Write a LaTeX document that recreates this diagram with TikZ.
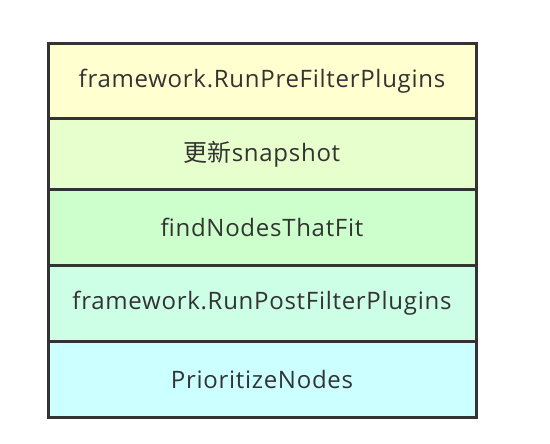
\documentclass[tikz,border=0pt]{standalone}
\usepackage{fontspec}
\setmainfont[LetterSpace=3]{Open Sans}
\newfontfamily\cjk{Noto Sans CJK SC}
\definecolor{bordc}{HTML}{333333}
\definecolor{txtc}{HTML}{333333}
\definecolor{cA}{HTML}{FFFFCF}
\definecolor{cB}{HTML}{E6FFCC}
\definecolor{cC}{HTML}{CCFFCC}
\definecolor{cD}{HTML}{CCFFE6}
\definecolor{cE}{HTML}{CCFFFF}
\begin{document}
\begin{tikzpicture}[x=1pt,y=-1pt,
  row/.style={draw=bordc,line width=3pt,minimum width=428pt,anchor=north west,inner sep=0pt,text=txtc,font=\fontsize{24}{28}\selectfont}]
\useasboundingbox (0,0) rectangle (550,444);
\fill[black!12] (47,44) rectangle (477.5,418.5);
\node[row,fill=cA,minimum height=74.5pt] (r1) at (46.5,42.5) {framework.RunPreFilterPlugins};
\node[row,fill=cB,minimum height=71.5pt] (r2) at (46.5,117) {{\cjk 更新}snapshot};
\node[row,fill=cC,minimum height=75pt] (r3) at (46.5,188.5) {ﬁndNodesThatFit};
\node[row,fill=cD,minimum height=76.5pt] (r4) at (46.5,263.5) {framework.RunPostFilterPlugins};
\node[row,fill=cE,minimum height=76pt] (r5) at (46.5,340) {PrioritizeNodes};
\end{tikzpicture}
\end{document}
